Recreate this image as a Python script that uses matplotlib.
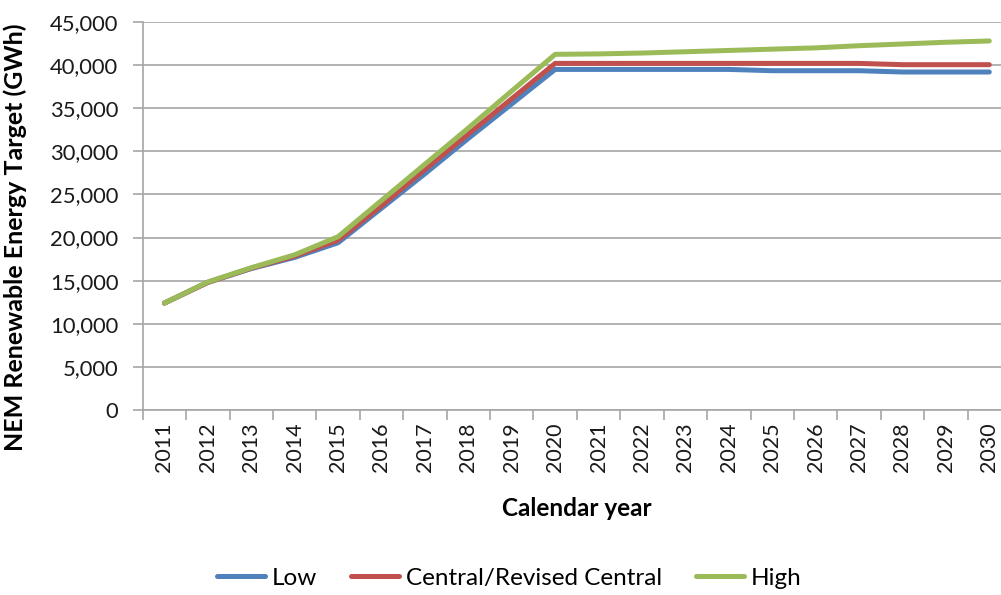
import matplotlib
matplotlib.use("Agg")
import matplotlib.pyplot as plt
from matplotlib.ticker import FuncFormatter, MultipleLocator

plt.rcParams['font.family'] = ['Lato', 'DejaVu Sans']

years = list(range(2011, 2031))
low = [12400, 14800, 16400, 17700, 19400, 23400, 27400, 31500, 35500, 39500,
       39500, 39500, 39500, 39500, 39350, 39350, 39350, 39200, 39200, 39200]
central = [12400, 14800, 16450, 17850, 19700, 23700, 27900, 32000, 36100, 40200,
           40200, 40200, 40200, 40200, 40200, 40200, 40200, 40050, 40050, 40050]
high = [12400, 14850, 16500, 18000, 20100, 24300, 28500, 32700, 37000, 41250,
        41300, 41400, 41550, 41700, 41850, 42000, 42250, 42450, 42650, 42800]

series = [("Low", low, "#4F81BD"),
          ("Central/Revised Central", central, "#C0504D"),
          ("High", high, "#9BBB59")]

W, H = 1001, 595
fig = plt.figure(figsize=(W / 100, H / 100), dpi=100)
# plot area runs past the right edge of the figure
ax = fig.add_axes([142.7 / W, 1 - 410 / H, (1011 - 142.7) / W, (410 - 22) / H])

x = list(range(len(years)))
for name, vals, col in series:
    ax.plot(x, vals, color=col, lw=3.6, solid_capstyle='round',
            solid_joinstyle='round', label=name)

ax.set_xlim(-0.5, len(years) - 0.5)
ax.set_ylim(0, 45000)
ax.yaxis.set_major_locator(MultipleLocator(5000))
ax.yaxis.set_major_formatter(FuncFormatter(lambda v, p: f"{int(v):,}"))
ax.grid(axis='y', color='#A6A6A6', lw=1.2)
ax.set_axisbelow(True)

ax.set_xticks(x)
ax.set_xticklabels([str(y) for y in years], rotation=90)
ax.set_xticks([i - 0.5 for i in range(len(years) + 1)], minor=True)
ax.tick_params(axis='x', which='major', length=0, pad=9, labelsize=15.5,
               labelcolor='#1a1a1a')
ax.tick_params(axis='x', which='minor', length=7, color='#A6A6A6', width=1.2)
ax.tick_params(axis='y', length=7, color='#A6A6A6', width=1.2, pad=10.5,
               labelsize=15.8, labelcolor='#1a1a1a')

for s in ['top', 'right']:
    ax.spines[s].set_visible(False)
for s in ['left', 'bottom']:
    ax.spines[s].set_color('#A6A6A6')
    ax.spines[s].set_linewidth(1.2)

fig.text(577 / W, 1 - 508 / H, "Calendar year", ha='center', va='center',
         fontsize=17.5, fontweight='bold')
fig.text(15 / W, 1 - 237 / H, "NEM Renewable Energy Target (GWh)",
         rotation=90, ha='center', va='center', fontsize=18,
         fontweight='bold')

fig.legend(loc='center', bbox_to_anchor=(509 / W, 1 - 578 / H), ncol=3,
           frameon=False, fontsize=17.5, handlelength=2.0, handletextpad=0.25,
           columnspacing=1.4)

fig.savefig("out.png", dpi=100)
